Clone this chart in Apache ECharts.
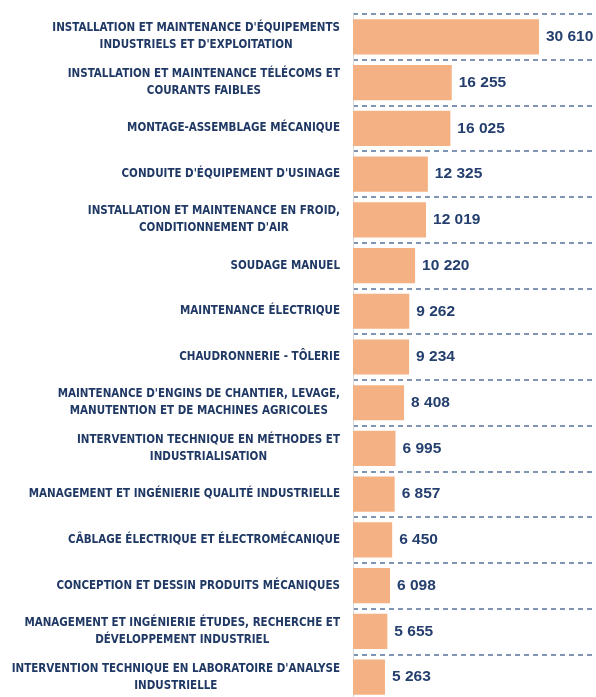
<!DOCTYPE html>
<html>
<head>
<meta charset="utf-8">
<script src="https://cdn.jsdelivr.net/npm/echarts@6/dist/echarts.min.js"></script>
<style>
  html, body { margin: 0; padding: 0; background: #fff; }
  #main { width: 596px; height: 697px; }
</style>
</head>
<body>
<div id="main"></div>
<script>
// Métiers (libellés sur deux lignes quand c'est le cas dans l'original)
var metiers = [
  "INSTALLATION ET MAINTENANCE D'ÉQUIPEMENTS\nINDUSTRIELS ET D'EXPLOITATION",
  "INSTALLATION ET MAINTENANCE TÉLÉCOMS ET\nCOURANTS FAIBLES",
  "MONTAGE-ASSEMBLAGE MÉCANIQUE",
  "CONDUITE D'ÉQUIPEMENT D'USINAGE",
  "INSTALLATION ET MAINTENANCE EN FROID,\nCONDITIONNEMENT D'AIR",
  "SOUDAGE MANUEL",
  "MAINTENANCE ÉLECTRIQUE",
  "CHAUDRONNERIE - TÔLERIE",
  "MAINTENANCE D'ENGINS DE CHANTIER, LEVAGE,\nMANUTENTION ET DE MACHINES AGRICOLES",
  "INTERVENTION TECHNIQUE EN MÉTHODES ET\nINDUSTRIALISATION",
  "MANAGEMENT ET INGÉNIERIE QUALITÉ INDUSTRIELLE",
  "CÂBLAGE ÉLECTRIQUE ET ÉLECTROMÉCANIQUE",
  "CONCEPTION ET DESSIN PRODUITS MÉCANIQUES",
  "MANAGEMENT ET INGÉNIERIE ÉTUDES, RECHERCHE ET\nDÉVELOPPEMENT INDUSTRIEL",
  "INTERVENTION TECHNIQUE EN LABORATOIRE D'ANALYSE\nINDUSTRIELLE"
];

var effectifs = [30610, 16255, 16025, 12325, 12019, 10220, 9262, 9234, 8408, 6995, 6857, 6450, 6098, 5655, 5263];

var navy = '#1f3864';

// 30610 -> "30 610"
function formatNombre(n) {
  return String(n).replace(/\B(?=(\d{3})+(?!\d))/g, ' ');
}

var chart = echarts.init(document.getElementById('main'));

chart.setOption({
  animation: false,
  grid: { left: 353, right: 0, top: 14, height: 686, outerBoundsMode: 'none' },
  xAxis: {
    type: 'value',
    min: 0,
    max: 40000,
    show: false
  },
  yAxis: {
    type: 'category',
    inverse: true,
    data: metiers,
    axisTick: { show: false },
    axisLine: { show: true, lineStyle: { color: '#d9d9d9', width: 1 } },
    splitLine: {
      show: true,
      lineStyle: { color: '#8094b4', width: 2, type: [5, 4] }
    },
    axisLabel: {
      margin: 13,
      formatter: function (v) {
        return v.split('\n').map(function (l) { return '{c|' + l + '}'; }).join('\n');
      },
      rich: {
        c: {
          align: 'center',
          fontFamily: '"DejaVu Sans Condensed", sans-serif',
          fontWeight: 'bold',
          fontSize: 11.5,
          lineHeight: 17,
          color: navy
        }
      }
    }
  },
  series: [{
    type: 'bar',
    data: effectifs,
    barCategoryGap: '23%',
    itemStyle: { color: '#f4b183' },
    label: {
      show: true,
      position: 'right',
      distance: 7,
      fontFamily: 'Liberation Sans',
      fontWeight: 'bold',
      fontSize: 15.5,
      color: '#243f6e',
      formatter: function (p) { return formatNombre(p.value); }
    }
  }]
});
</script>
</body>
</html>
